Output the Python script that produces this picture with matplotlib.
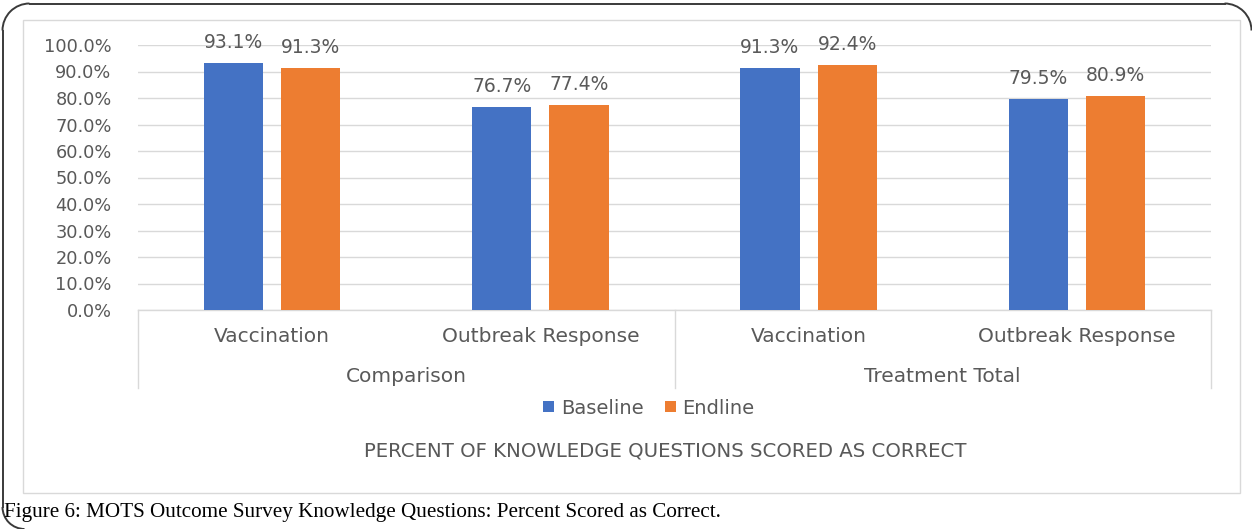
import matplotlib
matplotlib.use("Agg")
import matplotlib.pyplot as plt
from matplotlib.patches import Arc, Rectangle, Patch
from matplotlib.transforms import blended_transform_factory

# Data
groups = ["Comparison", "Treatment Total"]
categories = ["Vaccination", "Outbreak Response", "Vaccination", "Outbreak Response"]
baseline = [93.1, 76.7, 91.3, 79.5]
endline = [91.3, 77.4, 92.4, 80.9]
series_names = ["Baseline", "Endline"]
y_ticks = [0, 10, 20, 30, 40, 50, 60, 70, 80, 90, 100]
chart_title = "PERCENT OF KNOWLEDGE QUESTIONS SCORED AS CORRECT"
caption = "Figure 6: MOTS Outcome Survey Knowledge Questions: Percent Scored as Correct."

BLUE = "#4472C4"
ORANGE = "#ED7D31"
GRID = "#D9D9D9"
TEXT = "#595959"
FRAME = "#3a3a3a"
FONT = "DejaVu Sans"

W, H = 1252, 529
fig = plt.figure(figsize=(W / 100, H / 100), dpi=100)
fig.patch.set_facecolor("white")


def fx(px):
    return px / W


def fy(py):
    return 1 - py / H


# Background layer in pixel coordinates for the frame and chart border
bg = fig.add_axes([0, 0, 1, 1], zorder=-1)
bg.set_xlim(0, W)
bg.set_ylim(H, 0)
bg.axis("off")

r_top, r_bot = 27, 22
left_x, top_y, right_x = 2.5, 3.5, 1251.5
frame_kw = dict(color=FRAME, linewidth=1.4, clip_on=False)
bg.plot([left_x + r_top, right_x - r_top], [top_y, top_y], **frame_kw)
bg.plot([left_x, left_x], [top_y + r_top, 507], **frame_kw)
arc_kw = dict(edgecolor=FRAME, linewidth=1.4, clip_on=False)
bg.add_patch(Arc((left_x + r_top, top_y + r_top), 2 * r_top, 2 * r_top,
                 theta1=180, theta2=270, **arc_kw))
bg.add_patch(Arc((right_x - r_top, top_y + r_top), 2 * r_top, 2 * r_top,
                 theta1=270, theta2=360, **arc_kw))
bg.add_patch(Arc((left_x + r_bot, 507), 2 * r_bot, 2 * r_bot,
                 theta1=90, theta2=180, **arc_kw))

bg.add_patch(Rectangle((23, 20), 1240 - 23, 493 - 20, fill=False,
                       edgecolor=GRID, linewidth=1))

ax_left, ax_right, ax_top, ax_bottom = 138, 1211, 45, 310
ax = fig.add_axes([fx(ax_left), fy(ax_bottom), fx(ax_right) - fx(ax_left),
                   fy(ax_top) - fy(ax_bottom)])
ax.patch.set_alpha(0)

x = list(range(len(categories)))
bw = 0.22
off = 0.144
b1 = ax.bar([i - off for i in x], baseline, width=bw, color=BLUE, zorder=3)
b2 = ax.bar([i + off for i in x], endline, width=bw, color=ORANGE, zorder=3)

for bars, vals in ((b1, baseline), (b2, endline)):
    for rect, v in zip(bars, vals):
        ax.annotate(f"{v:.1f}%", (rect.get_x() + rect.get_width() / 2, v),
                    xytext=(0, 11), textcoords="offset pixels",
                    ha="center", va="bottom", fontsize=13.5, color=TEXT,
                    family=FONT)

ax.set_xlim(-0.5, len(categories) - 0.5)
ax.set_ylim(0, 100)
ax.set_yticks(y_ticks)
ax.set_yticklabels([f"{t:.1f}%" for t in y_ticks], fontsize=12.8,
                   color=TEXT, family=FONT)
ax.tick_params(axis="y", length=0, pad=19)
ax.set_xticks([])
ax.grid(axis="y", color=GRID, linewidth=1, zorder=0)
for s in ("left", "right", "top"):
    ax.spines[s].set_visible(False)
ax.spines["bottom"].set_color(GRID)
ax.spines["bottom"].set_linewidth(1)

# Two-level category axis
trans = blended_transform_factory(ax.transData, ax.transAxes)
plot_h = ax_bottom - ax_top
cat_y = -(337 - ax_bottom) / plot_h
grp_y = -(376 - ax_bottom) / plot_h
sep_y = -(388 - ax_bottom) / plot_h
for i, name in enumerate(categories):
    ax.text(i, cat_y, name, transform=trans, ha="center", va="center",
            fontsize=14.5, color=TEXT, family=FONT)
per_group = len(categories) // len(groups)
for g, name in enumerate(groups):
    centre = g * per_group + (per_group - 1) / 2
    ax.text(centre, grp_y, name, transform=trans, ha="center", va="center",
            fontsize=14.5, color=TEXT, family=FONT)
for g in range(len(groups) + 1):
    xs = g * per_group - 0.5
    ax.plot([xs, xs], [0, sep_y], transform=trans, color=GRID,
            linewidth=1, clip_on=False)

# Legend
handles = [Patch(facecolor=BLUE, label=series_names[0]),
           Patch(facecolor=ORANGE, label=series_names[1])]
fig.legend(handles=handles, loc="center", bbox_to_anchor=(fx(649), fy(408)),
           ncol=2, frameon=False, handlelength=0.55, handleheight=0.55,
           handletextpad=0.35, columnspacing=1.1, labelcolor=TEXT,
           prop={"family": FONT, "size": 14})

fig.text(fx(665), fy(451), chart_title, ha="center", va="center",
         fontsize=14.2, color=TEXT, family=FONT)

fig.text(fx(4), fy(512), caption, ha="left", va="center", fontsize=15.2,
         color="black", family="Liberation Serif")

fig.savefig("out.png", dpi=100, facecolor="white")
